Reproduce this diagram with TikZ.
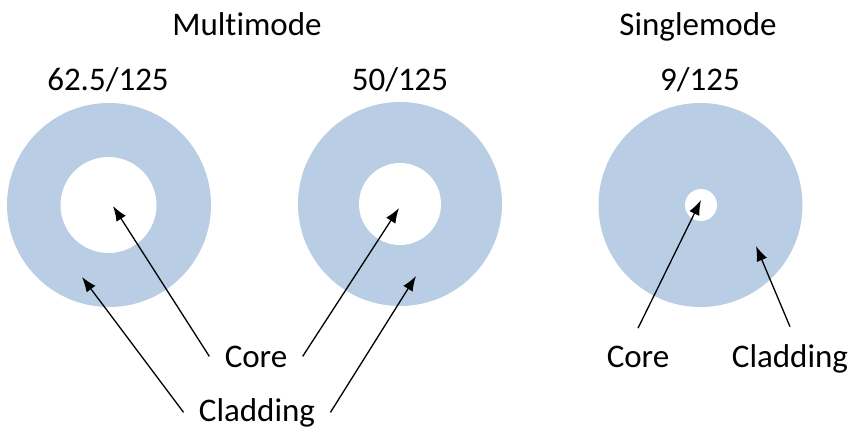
\documentclass[tikz,border=0pt]{standalone}
\usepackage{fontspec}
\setmainfont{Carlito}[Ligatures={NoCommon}]
\usetikzlibrary{arrows.meta}
\definecolor{gaine}{HTML}{B9CDE5}

\begin{document}
\begin{tikzpicture}[x=0.5pt,y=-0.5pt]
	\tikzstyle{fleche}=[-{Latex[length=7.5pt,width=5.5pt]},line width=0.65pt]
	\tikzstyle{fibre}=[circle,fill=gaine,inner sep=0,minimum size=102pt]
	\tikzstyle{coeur}=[circle,fill=white,inner sep=0]
	\tikzstyle{titre}=[anchor=base,inner sep=0,font=\fontsize{16.5}{20}\selectfont]
	\tikzstyle{etiquette}=[anchor=base,inner xsep=7.5pt,inner ysep=8.5pt,font=\fontsize{16.5}{20}\selectfont]
	
	\def\LigneTitre{35}
	\def\LigneDiametre{90}
	\def\LigneCentre{205}
	\def\LigneCore{367}
	\def\LigneCladding{421}
	
	\useasboundingbox (0,0) rectangle (852,429);
	
	\node[titre] (multi) at (247,\LigneTitre) {Multimode};
	\node[titre] (single) at (698,\LigneTitre) {Singlemode};
	\node[titre] (dimA) at (108,\LigneDiametre) {62.5/125};
	\node[titre] (dimB) at (400,\LigneDiametre) {50/125};
	\node[titre] (dimC) at (700,\LigneDiametre) {9/125};
	
	\node[fibre] (fibreA) at (109,\LigneCentre) {};
	\node[coeur,minimum size=48pt] (coeurA) at (108.5,\LigneCentre) {};
	\node[fibre] (fibreB) at (400,204) {};
	\node[coeur,minimum size=41pt] (coeurB) at (400,204) {};
	\node[fibre] (fibreC) at (700.5,\LigneCentre) {};
	\node[coeur,minimum size=16pt] (coeurC) at (701,\LigneCentre) {};
	
	\node[etiquette] (coreAB) at (256,\LigneCore) {Core};
	\node[etiquette] (claddingAB) at (257,\LigneCladding) {Cladding};
	\node[etiquette] (coreC) at (638,\LigneCore) {Core};
	\node[etiquette] (claddingC) at (790,\LigneCore) {Cladding};
	
	\coordinate (pointeCoreA) at (113,206);
	\coordinate (pointeCoreB) at (399,208);
	\coordinate (pointeGaineA) at (82,277);
	\coordinate (pointeGaineB) at (416,276);
	\coordinate (pointeCoreC) at (701,200);
	\coordinate (pointeGaineC) at (756,246);
	
	\draw[fleche] (coreAB.west)--(pointeCoreA);
	\draw[fleche] (coreAB.east)--(pointeCoreB);
	\draw[fleche] (claddingAB.west)--(pointeGaineA);
	\draw[fleche] (claddingAB.east)--(pointeGaineB);
	\draw[fleche] (coreC.north)--(pointeCoreC);
	\draw[fleche] (claddingC.north)--(pointeGaineC);
\end{tikzpicture}
\end{document}
